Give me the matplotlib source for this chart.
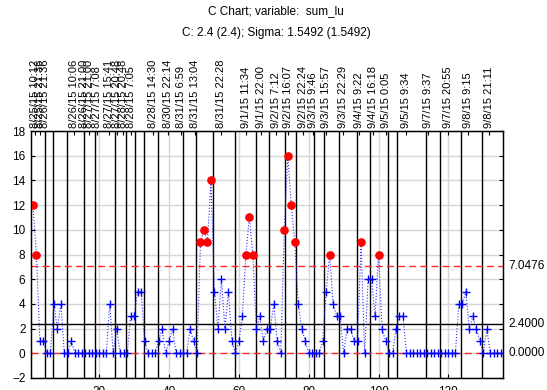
import numpy as np
import matplotlib
matplotlib.use("Agg")
import matplotlib.pyplot as plt

plt.rcParams['font.family'] = ['Liberation Sans', 'DejaVu Sans']

# counts per sample for sum_lu
counts = [12, 8, 1, 1, 0, 0, 4, 2, 4, 0, 0, 1,
          0, 0, 0, 0, 0, 0, 0, 0, 0, 0,
          4, 0, 2, 0, 0, 0,
          3, 3, 5, 5, 1, 0, 0, 0,
          1, 2, 0, 1, 2, 0, 0, 0, 0,
          2, 1, 0, 9, 10, 9, 14,
          5, 2, 6, 2, 5, 1, 0, 1, 3,
          8, 11, 8, 2, 3, 1, 2, 2, 4, 1, 0,
          10, 16, 12, 9, 4, 2, 1, 0, 0, 0, 0,
          1, 5, 8, 4, 3, 3, 0, 2, 2, 1, 1,
          9, 0, 6, 6, 3, 8, 2, 1, 0, 0, 2, 3, 3,
          0, 0, 0, 0, 0, 0, 0, 0, 0, 0, 0, 0, 0, 0, 0,
          4, 4, 5, 2, 3, 2, 1, 0, 2, 0, 0, 0, 0]

# sample labels shown along the top
date_labels = ["8/25/15 10:12", "8/25/15 21:36", "8/26/15 21:36", "8/26/15 10:06",
               "8/26/15 21:00", "8/27/15 21:00", "8/27/15 7:08", "8/27/15 15:41",
               "8/27/15 20:48", "8/28/15 20:48", "8/28/15 7:05", "8/28/15 14:30",
               "8/30/15 22:14", "8/31/15 6:59", "8/31/15 13:04", "8/31/15 22:28",
               "9/1/15 11:34", "9/1/15 22:00", "9/2/15 7:12", "9/2/15 16:07",
               "9/2/15 22:24", "9/3/15 9:46", "9/3/15 15:57", "9/3/15 22:29",
               "9/4/15 9:22", "9/4/15 16:18", "9/5/15 0:05", "9/5/15 9:34",
               "9/7/15 9:37", "9/7/15 20:55", "9/8/15 9:15", "9/8/15 21:11"]
date_at = [1.5, 3.0, 4.4, 12.7, 15.6, 17.1, 19.3, 22.7, 25.0, 26.8, 29.0, 35.5,
           39.8, 43.3, 47.4, 55.0, 62.1, 66.4, 70.7, 74.1, 78.4, 81.3, 85.0, 89.8,
           94.4, 98.4, 102.1, 107.8, 114.1, 119.8, 125.5, 131.5]

# sample breaks (vertical markers)
breaks = [4.6, 6.7, 10.8, 15.7, 18.9, 24.6, 27.7, 30.3, 32.7, 36.75, 44.1, 47.7,
          52.6, 58.8, 65.0, 68.6, 73.3, 76.4, 81.6, 84.5, 88.8, 93.8, 97.6,
          102.6, 105.4, 113.7, 117.6, 123.5, 129.7]

counts = np.array(counts, dtype=float)
samples = np.arange(1, len(counts) + 1)

center = counts.mean()
sigma = np.sqrt(center)
ucl = center + 3 * sigma
lcl = max(0.0, center - 3 * sigma)

fig = plt.figure(figsize=(5.47, 3.90), dpi=100)
ax = fig.add_axes([31 / 547, 12 / 390, 472 / 547, 247 / 390])

ax.set_xlim(0.45, 135.65)
ax.set_ylim(-2, 18)
ax.set_yticks(np.arange(-2, 19, 2))
ax.set_xticks(np.arange(20, 135, 20))
ax.grid(True, color='#d6d6d6', linewidth=1.0)
ax.set_axisbelow(True)
ax.tick_params(direction='in', length=3, labelsize=8.5, right=True, pad=4)
ax.tick_params(axis='x', pad=6)
for s in ax.spines.values():
    s.set_linewidth(1.0)

for b in breaks:
    ax.axvline(b, color='black', linewidth=1.0, zorder=1)

ax.axhline(ucl, color='#ff2a2a', linewidth=1.0, dashes=(5, 3), zorder=2)
ax.axhline(lcl, color='#ff2a2a', linewidth=1.0, dashes=(5, 3), zorder=2)
ax.axhline(center, color='black', linewidth=1.0, zorder=2)

ax.plot(samples, counts, color='#3030ff', linestyle=':', linewidth=0.8, zorder=3)
out = counts > ucl
ax.plot(samples[~out], counts[~out], linestyle='none', marker='+',
        color='#0000ff', markersize=5.5, markeredgewidth=1.0, zorder=4)
ax.plot(samples[out], counts[out], linestyle='none', marker='o',
        color='#ff0000', markersize=5.2, zorder=5)

for v in (ucl, center, lcl):
    ax.text(1.012, v, f"{v:.4f}", transform=ax.get_yaxis_transform(),
            ha='left', va='center', fontsize=8.5)

top = ax.twiny()
top.set_xlim(ax.get_xlim())
top.set_xticks(date_at)
top.set_xticklabels(date_labels, rotation=90, fontsize=8)
top.tick_params(direction='in', length=3, pad=2)

fig.text(0.505, 0.972, "C Chart; variable:  sum_lu", ha='center', va='center', fontsize=8.5)
fig.text(0.505, 0.915, "C: 2.4 (2.4); Sigma: 1.5492 (1.5492)", ha='center',
         va='center', fontsize=8.5)

fig.savefig("out.png", dpi=100)
